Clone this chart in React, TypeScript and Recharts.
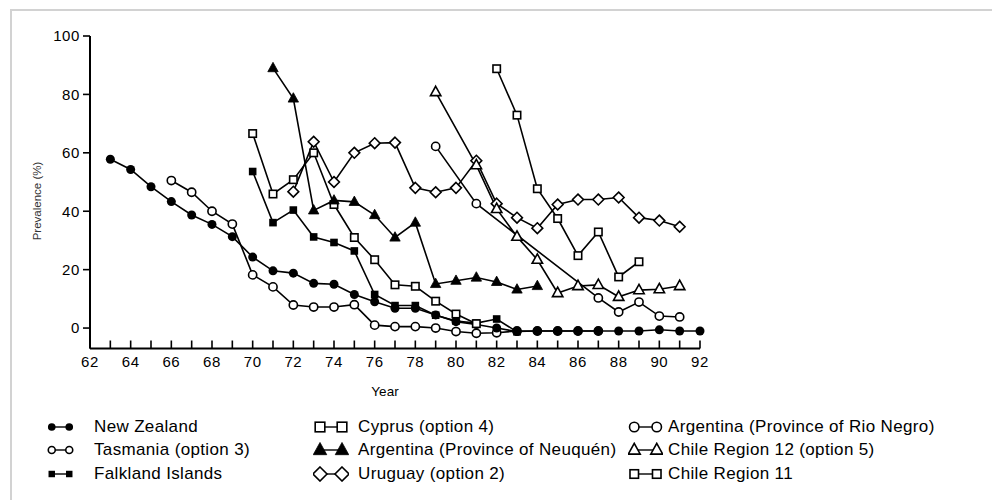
import React from "react";

import { Line, LineChart, XAxis, YAxis, Label } from "recharts";

// x axis: a tick every year, a label every second year
const yearTicks = [
  62, 63, 64, 65, 66, 67, 68, 69, 70, 71, 72, 73, 74, 75, 76, 77, 78, 79, 80,
  81, 82, 83, 84, 85, 86, 87, 88, 89, 90, 91, 92,
];
const prevalenceTicks = [0, 20, 40, 60, 80, 100];

const nzYears = [
  63, 64, 65, 66, 67, 68, 69, 70, 71, 72, 73, 74, 75, 76, 77, 78, 79, 80, 81,
  82, 83, 84, 85, 86, 87, 88, 89, 90, 91, 92,
];
const nzValues = [
  57.8, 54.3, 48.4, 43.3, 38.7, 35.5, 31.3, 24.3, 19.6, 18.8, 15.3, 15, 11.5, 9,
  6.8, 6.8, 4.5, 2.2, 1.2, 0, -1.2, -1, -1, -1, -1, -1, -1, -0.6, -1, -1,
];

const tasmaniaYears = [
  66, 67, 68, 69, 70, 71, 72, 73, 74, 75, 76, 77, 78, 79, 80, 81, 82, 83, 84,
  85, 86, 87,
];
const tasmaniaValues = [
  50.5, 46.5, 40, 35.6, 18.2, 14.1, 7.9, 7.2, 7.2, 8, 1, 0.5, 0.5, 0, -1.2,
  -1.8, -1.6, -1, -1, -1, -1, -1,
];

const falklandYears = [70, 71, 72, 73, 74, 75, 76, 77, 78, 79, 80, 81, 82, 83];
const falklandValues = [
  53.6, 36.1, 40.4, 31.2, 29.3, 26.4, 11.5, 7.7, 7.7, 4.4, 2.4, 1.7, 3.1, -1.3,
];

const cyprusYears = [70, 71, 72, 73, 74, 75, 76, 77, 78, 79, 80, 81];
const cyprusValues = [
  66.6, 45.9, 50.8, 60, 42.3, 31, 23.4, 14.8, 14.3, 9.2, 4.8, 1.5,
];

const neuquenYears = [71, 72, 73, 74, 75, 76, 77, 78, 79, 80, 81, 82, 83, 84];
const neuquenValues = [
  89, 78.6, 40.3, 43.7, 43.2, 38.7, 31, 36.1, 15.1, 16.2, 17.3, 15.8, 13.2, 14.4,
];

const uruguayYears = [
  72, 73, 74, 75, 76, 77, 78, 79, 80, 81, 82, 83, 84, 85, 86, 87, 88, 89, 90,
  91,
];
const uruguayValues = [
  46.7, 63.8, 50, 60, 63.3, 63.5, 48, 46.5, 48, 57.3, 42.6, 37.8, 34.2, 42.3,
  44, 44, 44.7, 37.8, 36.8, 34.7,
];

const rioNegroYears = [79, 81, 87, 88, 89, 90, 91];
const rioNegroValues = [62.2, 42.6, 10.3, 5.5, 8.9, 4.1, 3.8];

const chile12Years = [79, 81, 82, 83, 84, 85, 86, 87, 88, 89, 90, 91];
const chile12Values = [
  80.8, 55.8, 40.8, 31.3, 23.4, 12, 14.4, 14.8, 10.7, 13, 13.3, 14.4,
];

const chile11Years = [82, 83, 84, 85, 86, 87, 88, 89];
const chile11Values = [88.8, 72.9, 47.7, 37.5, 24.8, 32.9, 17.5, 22.7];

const FONT = '"Liberation Sans", Arial, Helvetica, sans-serif';

type Shape =
  | "filledCircle"
  | "openCircle"
  | "filledSquare"
  | "openSquare"
  | "filledTriangle"
  | "openTriangle"
  | "diamond";

function toRows(years: number[], values: number[]) {
  return years.map((year, i) => ({ year, value: values[i] }));
}

function Marker({
  cx,
  cy,
  shape,
  s = 1,
}: {
  cx: number;
  cy: number;
  shape: Shape;
  s?: number;
}) {
  const sw = 1.6;
  switch (shape) {
    case "filledCircle":
      return <circle cx={cx} cy={cy} r={4.5 * s} fill="#000" />;
    case "openCircle":
      return (
        <circle cx={cx} cy={cy} r={4.1 * s} fill="#fff" stroke="#000" strokeWidth={sw} />
      );
    case "filledSquare":
      return (
        <rect x={cx - 3.8 * s} y={cy - 3.8 * s} width={7.6 * s} height={7.6 * s} fill="#000" />
      );
    case "openSquare":
      return (
        <rect
          x={cx - 3.7 * s}
          y={cy - 3.7 * s}
          width={7.4 * s}
          height={7.4 * s}
          fill="#fff"
          stroke="#000"
          strokeWidth={sw}
        />
      );
    case "filledTriangle":
    case "openTriangle": {
      const pts = `${cx},${cy - 5.8 * s} ${cx + 5.2 * s},${cy + 3.6 * s} ${cx - 5.2 * s},${cy + 3.6 * s}`;
      return shape === "filledTriangle" ? (
        <polygon points={pts} fill="#000" stroke="#000" strokeWidth={0.8} />
      ) : (
        <polygon points={pts} fill="#fff" stroke="#000" strokeWidth={sw} />
      );
    }
    case "diamond": {
      const pts = `${cx},${cy - 5.4 * s} ${cx + 5.4 * s},${cy} ${cx},${cy + 5.4 * s} ${cx - 5.4 * s},${cy}`;
      return <polygon points={pts} fill="#fff" stroke="#000" strokeWidth={sw} />;
    }
  }
  return null;
}

const renderDot = (shape: Shape, id: string) => (props: any) => (
  <Marker key={`${id}-${props.index}`} cx={props.cx} cy={props.cy} shape={shape} />
);

function YearTick({ x, y, payload }: any) {
  const v = payload.value;
  return (
    <g>
      <line x1={x} x2={x} y1={y} y2={y - 8} stroke="#000" strokeWidth={1.6} />
      {v % 2 === 0 && (
        <text
          x={x}
          y={y + 18.5}
          textAnchor="middle"
          fontSize={15}
          fontFamily={FONT}
          letterSpacing={0.6}
          fill="#000"
        >
          {v}
        </text>
      )}
    </g>
  );
}

const seriesLines: { id: string; shape: Shape; years: number[]; values: number[] }[] = [
  { id: "tasmania", shape: "openCircle", years: tasmaniaYears, values: tasmaniaValues },
  { id: "nz", shape: "filledCircle", years: nzYears, values: nzValues },
  { id: "falkland", shape: "filledSquare", years: falklandYears, values: falklandValues },
  { id: "cyprus", shape: "openSquare", years: cyprusYears, values: cyprusValues },
  { id: "neuquen", shape: "filledTriangle", years: neuquenYears, values: neuquenValues },
  { id: "uruguay", shape: "diamond", years: uruguayYears, values: uruguayValues },
  { id: "rionegro", shape: "openCircle", years: rioNegroYears, values: rioNegroValues },
  { id: "chile12", shape: "openTriangle", years: chile12Years, values: chile12Values },
  { id: "chile11", shape: "openSquare", years: chile11Years, values: chile11Values },
];

// legend columns
const legendCol1 = ["New Zealand", "Tasmania (option 3)", "Falkland Islands"];
const legendCol2 = [
  "Cyprus (option 4)",
  "Argentina (Province of Neuquén)",
  "Uruguay (option 2)",
];
const legendCol3 = [
  "Argentina (Province of Rio Negro)",
  "Chile Region 12 (option 5)",
  "Chile Region 11",
];
const legendShapes1: Shape[] = ["filledCircle", "openCircle", "filledSquare"];
const legendShapes2: Shape[] = ["openSquare", "filledTriangle", "diamond"];
const legendShapes3: Shape[] = ["openCircle", "openTriangle", "openSquare"];

function LegendMarker({ shape, w, s }: { shape: Shape; w: number; s: number }) {
  const r = 5 * s;
  return (
    <svg width={w} height={16} style={{ display: "block" }}>
      <line x1={r} x2={w - r} y1={8} y2={8} stroke="#000" strokeWidth={1.4} />
      <Marker cx={r + 0.5} cy={8} shape={shape} s={s} />
      <Marker cx={w - r - 0.5} cy={8} shape={shape} s={s} />
    </svg>
  );
}

function LegendColumn({
  labels,
  shapes,
  markerX,
  textX,
  w,
  s,
}: {
  labels: string[];
  shapes: Shape[];
  markerX: number;
  textX: number;
  w: number;
  s: number;
}) {
  const rowCenters = [427, 450, 474];
  return (
    <>
      {labels.map((label, i) => (
        <div
          key={label}
          style={{
            position: "absolute",
            left: markerX,
            top: rowCenters[i] - 10,
            height: 20,
            display: "flex",
            alignItems: "center",
          }}
        >
          <LegendMarker shape={shapes[i]} w={w} s={s} />
          <span
            style={{
              position: "absolute",
              left: textX - markerX,
              whiteSpace: "nowrap",
              fontFamily: FONT,
              fontSize: 17,
              letterSpacing: 0.35,
              color: "#000",
            }}
          >
            {label}
          </span>
        </div>
      ))}
    </>
  );
}

export default function App() {
  return (
    <div
      style={{
        position: "absolute",
        left: 0,
        top: 0,
        width: 992,
        height: 500,
        background: "#fff",
        overflow: "hidden",
      }}
    >
      <div
        style={{
          position: "absolute",
          left: 10,
          top: 9,
          width: 1000,
          height: 520,
          borderTop: "2px solid #d2d2d2",
          borderLeft: "2px solid #d2d2d2",
        }}
      />
      <div style={{ position: "absolute", left: 0, top: 0 }}>
        <LineChart
          width={992}
          height={400}
          margin={{ top: 36, right: 292, left: 0, bottom: 21.5 }}
        >
          <XAxis
            dataKey="year"
            type="number"
            domain={[62, 92]}
            ticks={yearTicks}
            interval={0}
            height={30}
            tickSize={0}
            tickMargin={0}
            tickLine={false}
            tick={<YearTick />}
            axisLine={{ stroke: "#000", strokeWidth: 2 }}
            allowDuplicatedCategory={false}
          >
            <Label
              value="Year"
              position="bottom"
              offset={8}
              dx={-10}
              style={{ fontFamily: FONT, fontSize: 13.5, fill: "#000" }}
            />
          </XAxis>
          <YAxis
            type="number"
            domain={[-7, 100]}
            ticks={prevalenceTicks}
            interval={0}
            width={90}
            tickSize={7}
            tickMargin={3}
            tick={{ fill: "#000", fontSize: 15, fontFamily: FONT, letterSpacing: 0.6 }}
            tickLine={{ stroke: "#000", strokeWidth: 1.6 }}
            axisLine={{ stroke: "#000", strokeWidth: 2 }}
          >
            <Label
              content={() => (
                <text
                  x={37}
                  y={201}
                  transform="rotate(-90 37 201)"
                  textAnchor="middle"
                  dominantBaseline="central"
                  fontFamily={FONT}
                  fontSize={11.5}
                  fill="#333"
                >
                  Prevalence (%)
                </text>
              )}
            />
          </YAxis>
          {seriesLines.map((s) => (
            <Line
              key={s.id}
              data={toRows(s.years, s.values)}
              dataKey="value"
              type="linear"
              stroke="#000"
              strokeWidth={1.6}
              dot={renderDot(s.shape, s.id)}
              activeDot={false}
              isAnimationActive={false}
            />
          ))}
        </LineChart>
      </div>
      <LegendColumn labels={legendCol1} shapes={legendShapes1} markerX={47} textX={94} w={27} s={0.85} />
      <LegendColumn labels={legendCol2} shapes={legendShapes2} markerX={313} textX={358} w={36} s={1.3} />
      <LegendColumn labels={legendCol3} shapes={legendShapes3} markerX={628} textX={668} w={35} s={1.15} />
    </div>
  );
}
